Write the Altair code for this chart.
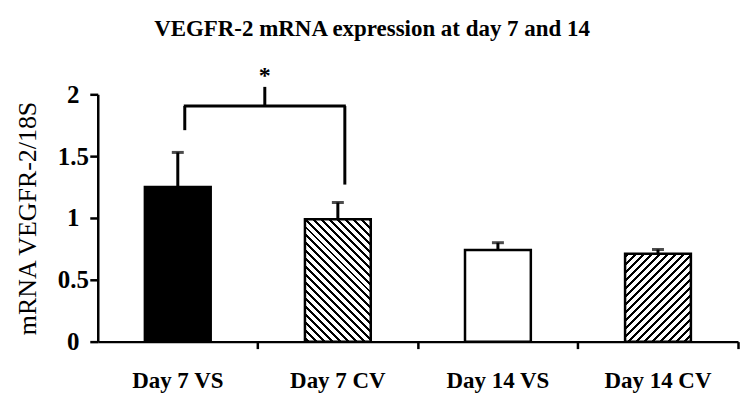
import altair as alt
import pandas as pd

# ---------------- data ----------------
categories = ["Day 7 VS", "Day 7 CV", "Day 14 VS", "Day 14 CV"]
means = [1.25, 0.99, 0.74, 0.71]
err_upper = [0.28, 0.135, 0.06, 0.035]
bar_styles = ["solid", "hatch_down", "open", "hatch_up"]

y_ticks = [0, 0.5, 1, 1.5, 2]
title_text = "VEGFR-2 mRNA expression at day 7 and 14"
y_title = "mRNA VEGFR-2/18S"

# significance bracket
sig_pair = ["Day 7 VS", "Day 7 CV"]
sig_low = [1.71, 1.27]
sig_level = 1.905
sig_tick_top = 2.06
sig_star_y = 2.15
sig_label = "*"

# ---------------- layout / style ----------------
W, H = 642, 248
BAR = 66
PERIOD = 8.0
INK = 3.0
SERIF = "Liberation Serif"

df = pd.DataFrame({
    "cat": categories,
    "mean": means,
    "top": [m + e for m, e in zip(means, err_upper)],
    "style": bar_styles,
})


def hatch(h_px, direction):
    w = float(BAR)
    span = w + h_px
    c = w * span / (w ** 2 + h_px ** 2)
    if direction == "up":
        x1, y1, x2, y2 = 0, 0, c, c * h_px / w
    else:
        x1, y1, x2, y2 = 0, 1, c, 1 - c * h_px / w
    stops = [{"offset": 0, "color": "white"}]
    k = 0
    while True:
        a = (k * PERIOD + 2.0) / span
        b = (k * PERIOD + 2.0 + INK) / span
        if a >= 1:
            break
        b = min(b, 1.0)
        stops += [
            {"offset": a, "color": "white"},
            {"offset": a, "color": "black"},
            {"offset": b, "color": "black"},
            {"offset": b, "color": "white"},
        ]
        k += 1
    stops.append({"offset": 1, "color": "white"})
    return {"gradient": "linear", "x1": x1, "y1": y1, "x2": x2, "y2": y2, "stops": stops}


x_scale = alt.Scale(domain=categories, paddingInner=0, paddingOuter=0)
x_axis = alt.Axis(
    title=None, labelFont=SERIF, labelFontSize=23, labelFontWeight="bold",
    labelColor="black", labelPadding=21, labelAngle=0, tickSize=7, tickWidth=2.5,
    tickColor="black", domainColor="black", domainWidth=2.5, bandPosition=1,
    grid=False,
)
y_scale = alt.Scale(domain=[0, 2], nice=False, zero=True)
y_axis = alt.Axis(
    title=y_title, values=y_ticks, format="~g", grid=False,
    labelFont=SERIF, labelFontSize=25, labelFontWeight="bold", labelColor="black",
    labelAlign="center", labelBaseline="middle", labelPadding=17, tickSize=8,
    tickWidth=2.5, tickColor="black", domainColor="black", domainWidth=2.5,
    titleFont=SERIF, titleFontSize=26, titleFontWeight="normal", titleColor="black",
    titleX=-62, titleY=H / 2, titleAngle=270, titleBaseline="alphabetic",
    titleAlign="center",
)


def X(field="cat", **kw):
    return alt.X(f"{field}:N", sort=categories, scale=x_scale, axis=x_axis, **kw)


def Y(field):
    return alt.Y(f"{field}:Q", scale=y_scale, axis=y_axis)


base = alt.Chart(df)
h_of = dict(zip(categories, [m * H / 2 for m in means]))

solid = base.transform_filter(alt.datum.style == "solid").mark_bar(
    size=BAR, fill="black", stroke="black", strokeWidth=2.5
).encode(x=X(), y=Y("mean"))
open_bar = base.transform_filter(alt.datum.style == "open").mark_bar(
    size=BAR, fill="white", stroke="black", strokeWidth=2.5
).encode(x=X(), y=Y("mean"))
hatch_down = base.transform_filter(alt.datum.style == "hatch_down").mark_bar(
    size=BAR, fill=hatch(h_of["Day 7 CV"], "down"), stroke="black", strokeWidth=2.5
).encode(x=X(), y=Y("mean"))
hatch_up = base.transform_filter(alt.datum.style == "hatch_up").mark_bar(
    size=BAR, fill=hatch(h_of["Day 14 CV"], "up"), stroke="black", strokeWidth=2.5
).encode(x=X(), y=Y("mean"))

err_rule = base.mark_rule(color="black", strokeWidth=3).encode(
    x=X(), y=Y("mean"), y2="top:Q")
err_cap = base.mark_tick(color="black", size=12, thickness=3).encode(
    x=X(), y=Y("top"))

brk_v_df = pd.DataFrame({"cat": sig_pair, "low": sig_low, "level": [sig_level] * 2})
brk_h_df = pd.DataFrame({"cat": [sig_pair[0]], "cat2": [sig_pair[1]], "level": [sig_level]})
brk_t_df = pd.DataFrame({"cat": [sig_pair[1]], "level": [sig_level], "tip": [sig_tick_top],
                         "star": [sig_star_y], "label": [sig_label]})

brk_v = alt.Chart(brk_v_df).mark_rule(color="black", strokeWidth=3, xOffset=7).encode(
    x=X(), y=Y("low"), y2="level:Q")
brk_h = alt.Chart(brk_h_df).mark_rule(color="black", strokeWidth=3, xOffset=6, x2Offset=8).encode(
    x=X(), x2="cat2:N", y=Y("level"))
brk_t = alt.Chart(brk_t_df).mark_rule(color="black", strokeWidth=3, xOffset=7).encode(
    x=X(bandPosition=0), y=Y("level"), y2="tip:Q")
star = alt.Chart(brk_t_df).mark_text(
    font=SERIF, fontSize=24, fontWeight="bold", color="black", dx=7, baseline="middle"
).encode(x=X(bandPosition=0), y=Y("star"), text="label:N")

chart = alt.layer(
    solid, open_bar, hatch_down, hatch_up, err_rule, err_cap, brk_v, brk_h, brk_t, star
).properties(
    width=W, height=H,
    title=alt.TitleParams(
        text=title_text, font=SERIF, fontSize=23, fontWeight="bold", color="black",
        anchor="middle", dx=-46, offset=5, baseline="alphabetic", frame="group",
    ),
    autosize=alt.AutoSizeParams(type="none"),
    padding={"left": 90, "top": 86, "right": 5, "bottom": 60},
    background="white",
).configure_view(stroke=None)

chart.save("out.html", embed_options={"renderer": "svg", "actions": False})
